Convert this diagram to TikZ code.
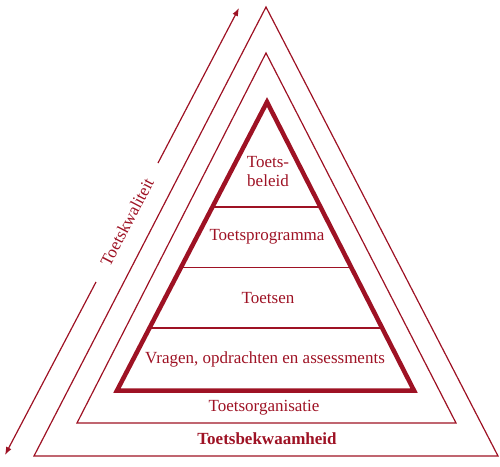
\documentclass[tikz,border=0pt]{standalone}
\usepackage{fontspec}
\setmainfont{Liberation Serif}
\usetikzlibrary{arrows.meta,calc}
\definecolor{toetsred}{RGB}{158,18,36}

\begin{document}
\begin{tikzpicture}[x=1pt, y=-1pt,
    layer/.style={draw=toetsred, line width=1.2pt, line join=miter},
    core/.style={draw=toetsred, line width=4.5pt, line join=miter},
    divider/.style={draw=toetsred, line width=1.2pt},
    label/.style={text=toetsred, font=\fontsize{17}{19}\selectfont, align=center, inner sep=0pt},
    arrow/.style={-{Latex[length=8pt,width=6pt]}, draw=toetsred, line width=1.2pt}
]
\useasboundingbox (0,0) rectangle (500,466);

% Corners of the three triangles
\coordinate (oa) at (266,7);   \coordinate (ol) at (34,456);  \coordinate (or) at (498,456);
\coordinate (ma) at (266,53);  \coordinate (ml) at (77,423);  \coordinate (mr) at (456,423);
\coordinate (ca) at (267,102); \coordinate (cl) at (117,390.5); \coordinate (cr) at (414,390.5);

% Triangles
\draw[layer] (oa) -- (ol) -- (or) -- cycle;
\draw[layer] (ma) -- (ml) -- (mr) -- cycle;
\draw[core] (ca) -- (cl) -- (cr) -- cycle;

% Dividers in the core
\foreach \t in {0.364,0.575,0.783}
    \draw[divider] ($(ca)!\t!(cl)$) -- ($(ca)!\t!(cr)$);

% Labels
\node[label] (beleid) at (268,172) {Toets-\\beleid};
\node[label] (programma) at (267,237) {Toetsprogramma};
\node[label] (toetsen) at (268,298) {Toetsen};
\node[label] (vragen) at (265,359) {Vragen, opdrachten en assessments};
\node[label] (organisatie) at (264,408) {Toetsorganisatie};
\node[label, font=\fontsize{17}{19}\selectfont\bfseries] (bekwaamheid) at (267,439) {Toetsbekwaamheid};

% Quality arrow
\coordinate (qlow) at (96,282);  \coordinate (qlowend) at (5,455);
\coordinate (qup) at (158,163);  \coordinate (qupend) at (239,8);
\draw[arrow] (qlow) -- (qlowend);
\draw[arrow] (qup) -- (qupend);
\node[label, rotate=62.4] (kwaliteit) at (127,222) {Toetskwaliteit};

\end{tikzpicture}
\end{document}
